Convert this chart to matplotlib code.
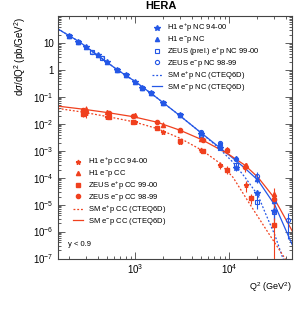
import numpy as np
import matplotlib
matplotlib.use("Agg")
from matplotlib import pyplot as plt
from matplotlib.lines import Line2D
from matplotlib.ticker import LogLocator, NullFormatter, FixedLocator

plt.rcParams['font.family'] = ['Liberation Sans', 'DejaVu Sans']
plt.rcParams['mathtext.fontset'] = 'custom'
plt.rcParams['mathtext.rm'] = 'Liberation Sans'
plt.rcParams['mathtext.it'] = 'Liberation Sans:italic'

blue = '#2457e6'
red = '#f0401e'

# ---- SM curves ----
nc_q2 = [152, 254, 425, 644, 1017, 1714, 2865, 4911, 7635, 11040, 14800, 20360, 30850, 47970]
nc_em = [32.9, 11.3, 3.0, 1.03, 0.361, 0.0918, 0.0228, 0.0050, 1.47e-3, 5.26e-4, 2.23e-4, 8.0e-5, 9.4e-6, 2.8e-7]
nc_ep_q2 = [152, 254, 425, 644, 1017, 1714, 2865, 4911, 7635, 11040, 14800, 20360, 24150, 30850, 37500, 44600]
nc_ep = [32.9, 11.3, 3.0, 1.03, 0.361, 0.0918, 0.0228, 0.0050, 1.35e-3, 3.73e-4, 1.03e-4, 2.22e-5, 5.2e-6, 7.2e-7, 1.0e-7, 3.0e-8]

cc_q2 = [152, 280, 516, 952, 1714, 3010, 5160, 9750, 14800, 20360, 29400, 47970]
cc_em = [0.0451, 0.0349, 0.0259, 0.0184, 0.01146, 0.00578, 0.00256, 7.7e-4, 2.89e-4, 1.03e-4, 2.04e-5, 9.3e-7]
cc_ep_q2 = [152, 280, 516, 975, 1714, 3010, 5160, 8020, 11040, 16700, 26000, 39400, 44600]
cc_ep = [0.0371, 0.0270, 0.0184, 0.0118, 0.00668, 0.00292, 1.04e-3, 3.43e-4, 1.03e-4, 1.03e-5, 9.3e-7, 1.0e-7, 3.0e-8]

# ---- NC data ----
h1_nc_ep_q2 = [200, 250, 300, 400, 500, 650, 800, 1000, 1200, 1500, 2000, 3000, 5000, 8000, 12000, 20000, 30000]
h1_nc_ep = [18.5, 10.8, 6.9, 3.5, 1.95, 1.0, 0.62, 0.36, 0.217, 0.14, 0.058, 0.021, 0.0042, 0.0013, 2.2e-4, 2.6e-5, 6e-6]
h1_nc_ep_err = [0.03] * 13 + [0.15, 0.2, 0.35, 0.6]

h1_nc_em_q2 = [200, 250, 300, 400, 500, 650, 800, 1000, 1200, 1500, 2000, 3000, 5000, 8000, 12000, 20000, 30000]
h1_nc_em = [18.5, 10.8, 6.9, 3.5, 1.95, 1.0, 0.62, 0.36, 0.217, 0.14, 0.058, 0.022, 0.0050, 0.0019, 5.5e-4, 9e-5, 1.4e-5]
h1_nc_em_err = [0.05] * 12 + [0.1, 0.15, 0.2, 0.3, 0.8]

zeus_nc_ep_q2 = [200, 250, 350, 450, 650, 800, 1200, 1500, 2000, 3000, 5000, 8000, 12000, 20000, 30000]
zeus_nc_ep = [18.5, 10.8, 4.6, 2.7, 1.0, 0.62, 0.217, 0.14, 0.058, 0.021, 0.00377, 0.00121, 3.0e-4, 1.3e-5, 5.3e-6]
zeus_nc_ep_err = [0.03] * 10 + [0.08, 0.12, 0.2, 0.45, 0.6]

zeus_nc_em_q2 = [200, 250, 350, 450, 650, 800, 1200, 1500, 2000, 3000, 5000, 8000, 12000, 20000, 30000, 42500]
zeus_nc_em = [18.5, 10.8, 4.6, 2.7, 1.0, 0.62, 0.217, 0.14, 0.058, 0.021, 0.0050, 0.0019, 4.9e-4, 1.2e-4, 1.5e-5, 2.6e-6]
zeus_nc_em_err = [0.04] * 10 + [0.1, 0.12, 0.2, 0.3, 0.6, 0.8]

# ---- CC data ----
h1_cc_ep_q2 = [300, 500, 1000, 2000, 3000, 5000, 8000, 15000]
h1_cc_ep = [0.0242, 0.0181, 0.0118, 0.0050, 0.00212, 0.00104, 2.9e-4, 5.2e-5]
h1_cc_ep_err = [0.35, 0.15, 0.15, 0.15, 0.15, 0.2, 0.3, 0.45]

h1_cc_em_q2 = [300, 500, 1000, 2000, 3000, 5000, 9500, 15000, 30000]
h1_cc_em = [0.0349, 0.0263, 0.0209, 0.0094, 0.0058, 0.00268, 0.0011, 2.9e-4, 2.56e-5]
h1_cc_em_err = [0.3, 0.2, 0.2, 0.2, 0.15, 0.15, 0.2, 0.25, 0.6]

zeus_cc_ep_q2 = [280, 530, 950, 1700, 3000, 5300, 9500, 17000, 30000]
zeus_cc_ep = [0.023, 0.0175, 0.012, 0.0067, 0.0023, 0.0010, 2.0e-4, 1.7e-5, 1.7e-6]
zeus_cc_ep_err = [0.2, 0.15, 0.15, 0.15, 0.15, 0.2, 0.3, 0.4, 0.95]

zeus_cc_em_q2 = [280, 530, 950, 1700, 3000, 5300, 9500, 14800, 30000]
zeus_cc_em = [0.032, 0.025, 0.0195, 0.0118, 0.0060, 0.0026, 0.0011, 2.5e-4, 1.6e-5]
zeus_cc_em_err = [0.2, 0.15, 0.15, 0.15, 0.15, 0.2, 0.25, 0.35, 0.7]


def errs(vals, rel):
    v = np.array(vals)
    r = np.array(rel)
    lo = v * np.minimum(r, 0.999)
    hi = v * r
    return [lo, hi]


fig = plt.figure(figsize=(2.94, 3.11), dpi=100)
ax = fig.add_axes([58 / 294, 1 - 258.5 / 311, 234 / 294, 242.5 / 311])
ax.set_xscale('log')
ax.set_yscale('log')
ax.set_xlim(152, 46800)
ax.set_ylim(1e-7, 1e2)

lw = 0.9
ax.plot(nc_ep_q2, nc_ep, color=blue, lw=lw, ls=(0, (1.5, 1.5)))
ax.plot(nc_q2, nc_em, color=blue, lw=lw)
ax.plot(cc_ep_q2, cc_ep, color=red, lw=lw, ls=(0, (1.5, 1.5)))
ax.plot(cc_q2, cc_em, color=red, lw=lw)

ekw = dict(ls='none', elinewidth=0.8, capsize=0)
ax.errorbar(h1_nc_ep_q2, h1_nc_ep, yerr=errs(h1_nc_ep, h1_nc_ep_err), marker='*', ms=4, color=blue, **ekw)
ax.errorbar(h1_nc_em_q2, h1_nc_em, yerr=errs(h1_nc_em, h1_nc_em_err), marker='^', ms=3, color=blue, **ekw)
ax.errorbar(zeus_nc_ep_q2, zeus_nc_ep, yerr=errs(zeus_nc_ep, zeus_nc_ep_err), marker='s', ms=3,
            mfc='none', mew=0.8, color=blue, **ekw)
ax.errorbar(zeus_nc_em_q2, zeus_nc_em, yerr=errs(zeus_nc_em, zeus_nc_em_err), marker='o', ms=3,
            mfc='none', mew=0.8, color=blue, **ekw)

ax.errorbar(h1_cc_ep_q2, h1_cc_ep, yerr=errs(h1_cc_ep, h1_cc_ep_err), marker='*', ms=3.5, color=red, **ekw)
ax.errorbar(h1_cc_em_q2, h1_cc_em, yerr=errs(h1_cc_em, h1_cc_em_err), marker='^', ms=3, color=red, **ekw)
ax.errorbar(zeus_cc_ep_q2, zeus_cc_ep, yerr=errs(zeus_cc_ep, zeus_cc_ep_err), marker='s', ms=3, color=red, **ekw)
ax.errorbar(zeus_cc_em_q2, zeus_cc_em, yerr=errs(zeus_cc_em, zeus_cc_em_err), marker='o', ms=3, color=red, **ekw)

# axes style
for s in ax.spines.values():
    s.set_color('#444444')
    s.set_linewidth(0.8)
ax.tick_params(which='both', direction='in', top=True, right=True, color='#444444', width=0.6)
ax.tick_params(which='major', length=5, labelsize=7, pad=3)
ax.tick_params(which='minor', length=2.5)
ax.xaxis.set_major_locator(FixedLocator([1e3, 1e4]))
ax.xaxis.set_minor_locator(LogLocator(base=10, subs=np.arange(2, 10)))
ax.xaxis.set_minor_formatter(NullFormatter())
ax.set_xticklabels([r'$10^{3}$', r'$10^{4}$'])
ax.yaxis.set_major_locator(FixedLocator([10.0 ** k for k in range(-7, 2)]))
ax.yaxis.set_minor_locator(LogLocator(base=10, subs=np.arange(2, 10), numticks=20))
ax.yaxis.set_minor_formatter(NullFormatter())
ylabels = [r'$10^{-7}$', r'$10^{-6}$', r'$10^{-5}$', r'$10^{-4}$', r'$10^{-3}$', r'$10^{-2}$',
           r'$10^{-1}$', '1', '10']
ax.set_yticklabels(ylabels)

fig.text(161 / 294, 1 - 6 / 311, 'HERA', ha='center', va='center', fontsize=8, fontweight='bold')
fig.text(20 / 294, 1 - 17 / 311, r'd$\sigma$/dQ$^2$ (pb/GeV$^2$)', rotation=90, ha='center', va='top', fontsize=7)
fig.text(292 / 294, 1 - 287 / 311, r'Q$^2$ (GeV$^2$)', ha='right', va='center', fontsize=6.5)
fig.text(68 / 294, 1 - 244 / 311, 'y < 0.9', ha='left', va='center', fontsize=5.5)

# legends
nc_handles = [
    Line2D([], [], ls='none', marker='*', ms=4, color=blue),
    Line2D([], [], ls='none', marker='^', ms=3, color=blue),
    Line2D([], [], ls='none', marker='s', ms=3, mfc='none', mew=0.8, color=blue),
    Line2D([], [], ls='none', marker='o', ms=3, mfc='none', mew=0.8, color=blue),
    Line2D([], [], ls=(0, (1.5, 1.5)), lw=lw, color=blue),
    Line2D([], [], lw=lw, color=blue),
]
nc_labels = [r'H1 e$^{+}$p NC 94-00', r'H1 e$^{-}$p NC', r'ZEUS (prel.) e$^{+}$p NC 99-00',
             r'ZEUS e$^{-}$p NC 98-99', r'SM e$^{+}$p NC (CTEQ6D)', r'SM e$^{-}$p NC (CTEQ6D)']
cc_handles = [
    Line2D([], [], ls='none', marker='*', ms=3.5, color=red),
    Line2D([], [], ls='none', marker='^', ms=3, color=red),
    Line2D([], [], ls='none', marker='s', ms=3, color=red),
    Line2D([], [], ls='none', marker='o', ms=3, color=red),
    Line2D([], [], ls=(0, (1.5, 1.5)), lw=lw, color=red),
    Line2D([], [], lw=lw, color=red),
]
cc_labels = [r'H1 e$^{+}$p CC 94-00', r'H1 e$^{-}$p CC', r'ZEUS e$^{+}$p CC 99-00',
             r'ZEUS e$^{-}$p CC 98-99', r'SM e$^{+}$p CC (CTEQ6D)', r'SM e$^{-}$p CC (CTEQ6D)']

lkw = dict(frameon=False, fontsize=5.5, handlelength=1.3, handletextpad=0.6,
           labelspacing=0.02, borderpad=0, borderaxespad=0, loc='upper left')
leg1 = ax.legend(nc_handles, nc_labels, bbox_to_anchor=(152 / 294, 1 - 22 / 311),
                 bbox_transform=fig.transFigure, **lkw)
ax.add_artist(leg1)
ax.legend(cc_handles, cc_labels, bbox_to_anchor=(73 / 294, 1 - 156 / 311),
          bbox_transform=fig.transFigure, **lkw)

fig.savefig('out.png', dpi=100)
